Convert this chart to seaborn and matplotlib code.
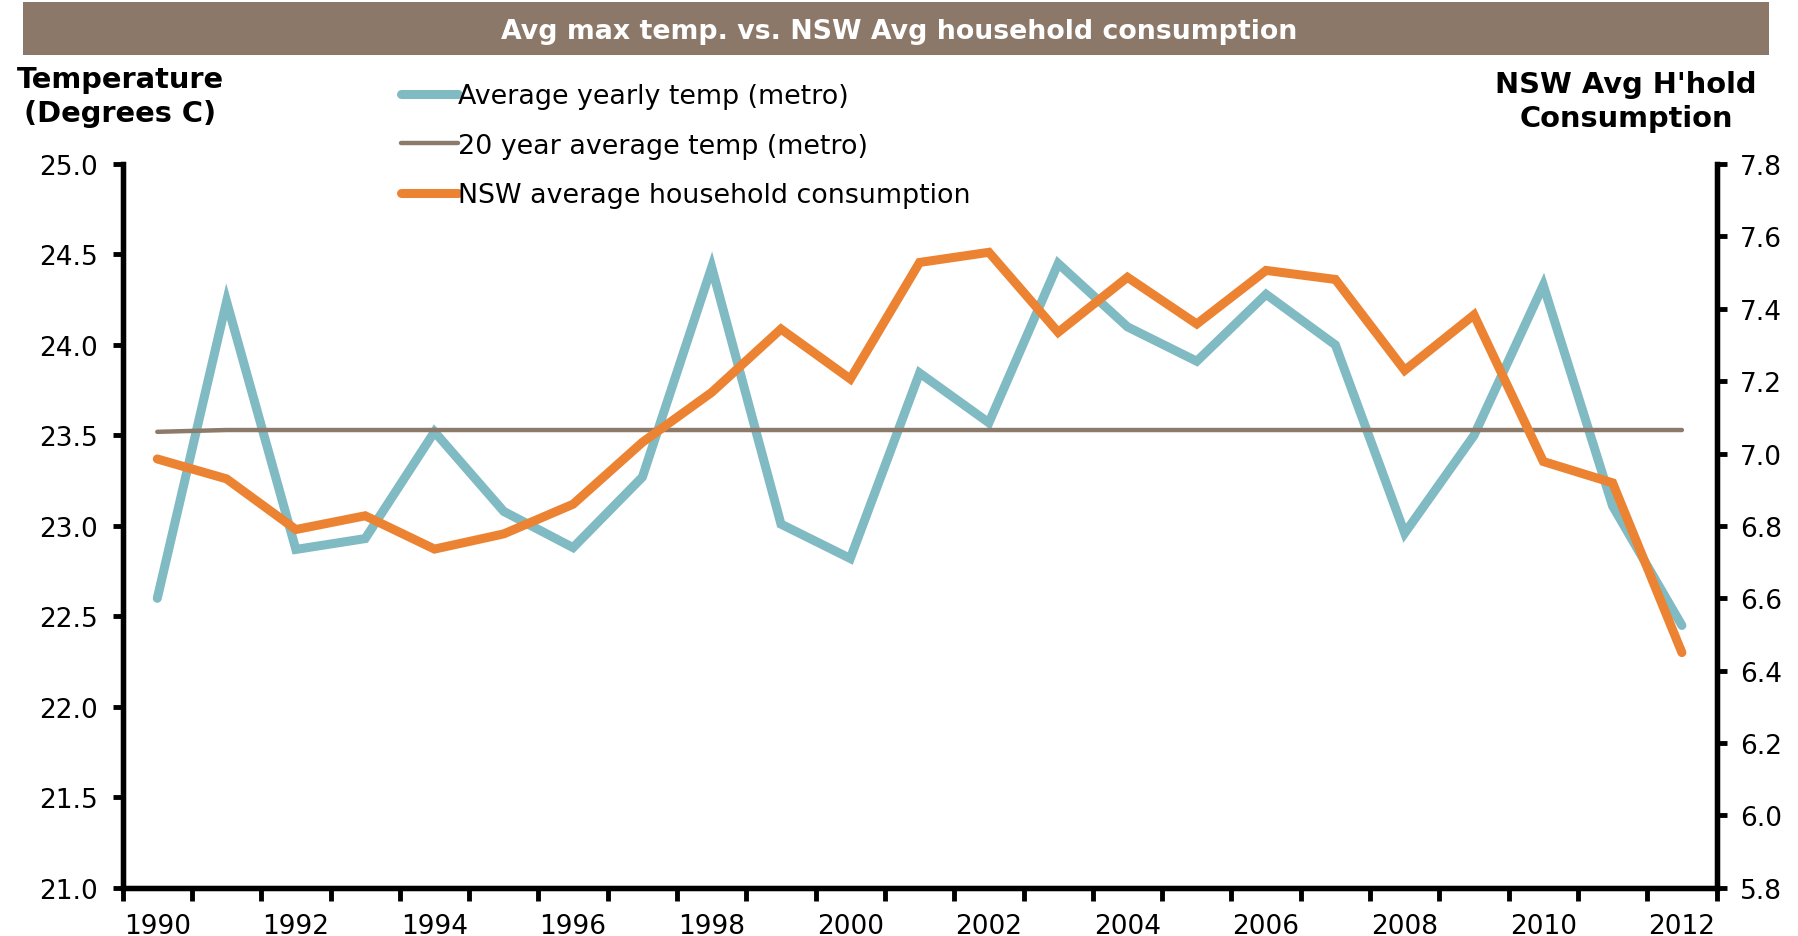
import matplotlib
matplotlib.use("Agg")
import matplotlib.pyplot as plt
import seaborn as sns
import numpy as np
from matplotlib.patches import Rectangle
from matplotlib.lines import Line2D

years = list(range(1990, 2013))
avg_yearly_temp = [22.60, 24.24, 22.87, 22.93, 23.52, 23.08, 22.88, 23.27, 24.43, 23.01,
                   22.82, 23.845, 23.57, 24.45, 24.10, 23.91, 24.28, 24.00, 22.96, 23.50,
                   24.33, 23.11, 22.45]
twenty_year_avg = [23.52] + [23.53] * 22
nsw_consumption = [6.985, 6.93, 6.79, 6.828, 6.736, 6.778, 6.86, 7.031, 7.169, 7.344,
                   7.206, 7.528, 7.556, 7.335, 7.487, 7.358, 7.506, 7.481, 7.23, 7.383,
                   6.978, 6.919, 6.45]
left_ticks = [21.0, 21.5, 22.0, 22.5, 23.0, 23.5, 24.0, 24.5, 25.0]
right_ticks = [5.8, 6.0, 6.2, 6.4, 6.6, 6.8, 7.0, 7.2, 7.4, 7.6, 7.8]
year_labels = [str(y) for y in years[::2]]

title = "Avg max temp. vs. NSW Avg household consumption"
left_label = "Temperature\n(Degrees C)"
right_label = "NSW Avg H'hold\nConsumption"
series_names = ["Average yearly temp (metro)", "20 year average temp (metro)",
                "NSW average household consumption"]

TEAL = "#80BAC2"
GREY = "#8C7A6B"
ORANGE = "#EC8332"
BANNER = "#8B7868"

sns.set_theme(style="white")
plt.rcParams['font.family'] = ['DejaVu Sans']
plt.rcParams['text.color'] = 'black'

fig = plt.figure(figsize=(17.98, 9.37), dpi=100)
ax = fig.add_axes([0.0682, 0.0514, 0.9547 - 0.0682, 0.8239 - 0.0514])
ax2 = ax.twinx()

x = np.arange(len(years))
sns.lineplot(x=x, y=avg_yearly_temp, ax=ax, color=TEAL, linewidth=6.5,
             solid_capstyle="round", solid_joinstyle="miter")
sns.lineplot(x=x, y=twenty_year_avg, ax=ax, color=GREY, linewidth=3.2,
             solid_capstyle="round")
sns.lineplot(x=x, y=nsw_consumption, ax=ax2, color=ORANGE, linewidth=6.5,
             solid_capstyle="round", solid_joinstyle="miter")

ax.set_xlim(-0.5, len(years) - 0.5)
ax.set_ylim(21.0, 25.0)
ax2.set_ylim(5.8, 7.8)
ax.set_yticks(left_ticks)
ax.set_yticklabels([f"{v:.1f}" for v in left_ticks])
ax2.set_yticks(right_ticks)
ax2.set_yticklabels([f"{v:.1f}" for v in right_ticks])

# category boundary ticks, labels at centres
ax.set_xticks(np.arange(-0.5, len(years), 1.0))
ax.set_xticklabels([])
ax.set_xticks(x[::2], minor=True)
ax.set_xticklabels(year_labels, minor=True)
ax.tick_params(axis="x", which="major", direction="out", length=9, width=3.5,
               color="black", bottom=True)
ax.tick_params(axis="x", which="minor", length=0, pad=18, labelsize=19,
               labelcolor="black", bottom=True)
ax.tick_params(axis="y", which="major", direction="out", length=7, width=3.5,
               color="black", left=True, labelsize=19, pad=11, labelcolor="black")
ax2.tick_params(axis="y", which="major", direction="out", length=7, width=3.5,
                color="black", right=True, labelsize=19, pad=10, labelcolor="black")

for a in (ax, ax2):
    a.spines["top"].set_visible(False)
    for s in ["left", "right", "bottom"]:
        a.spines[s].set_linewidth(3.8)
        a.spines[s].set_color("black")
ax.grid(False)
ax2.grid(False)
if ax.get_legend():
    ax.get_legend().remove()

# title banner
fig.patches.append(Rectangle((23 / 1798, 1 - 56 / 937), (1769 - 23) / 1798, 53 / 937,
                             transform=fig.transFigure, facecolor=BANNER,
                             edgecolor="none", zorder=0))
fig.text(0.5, 1 - 32 / 937, title, ha="center", va="center", color="white",
         fontsize=19.3, fontweight="bold")

fig.text(120 / 1798, 1 - 97 / 937, left_label, ha="center", va="center",
         fontsize=20.8, fontweight="bold", color="black", linespacing=1.25)
fig.text(1626 / 1798, 1 - 102 / 937, right_label, ha="center", va="center",
         fontsize=20.8, fontweight="bold", color="black", linespacing=1.25)

handles = [Line2D([], [], color=TEAL, linewidth=6.5, solid_capstyle="round"),
           Line2D([], [], color=GREY, linewidth=3.2, solid_capstyle="round"),
           Line2D([], [], color=ORANGE, linewidth=6.5, solid_capstyle="round")]
leg = fig.legend(handles, series_names, loc="upper left",
                 bbox_to_anchor=(401 / 1798, 1 - 84 / 937), frameon=False,
                 fontsize=19.4, handlelength=2.1, handletextpad=0.0, labelspacing=0.88,
                 borderpad=0, borderaxespad=0)
for t in leg.get_texts():
    t.set_color("black")

fig.savefig("out.png", dpi=100)
